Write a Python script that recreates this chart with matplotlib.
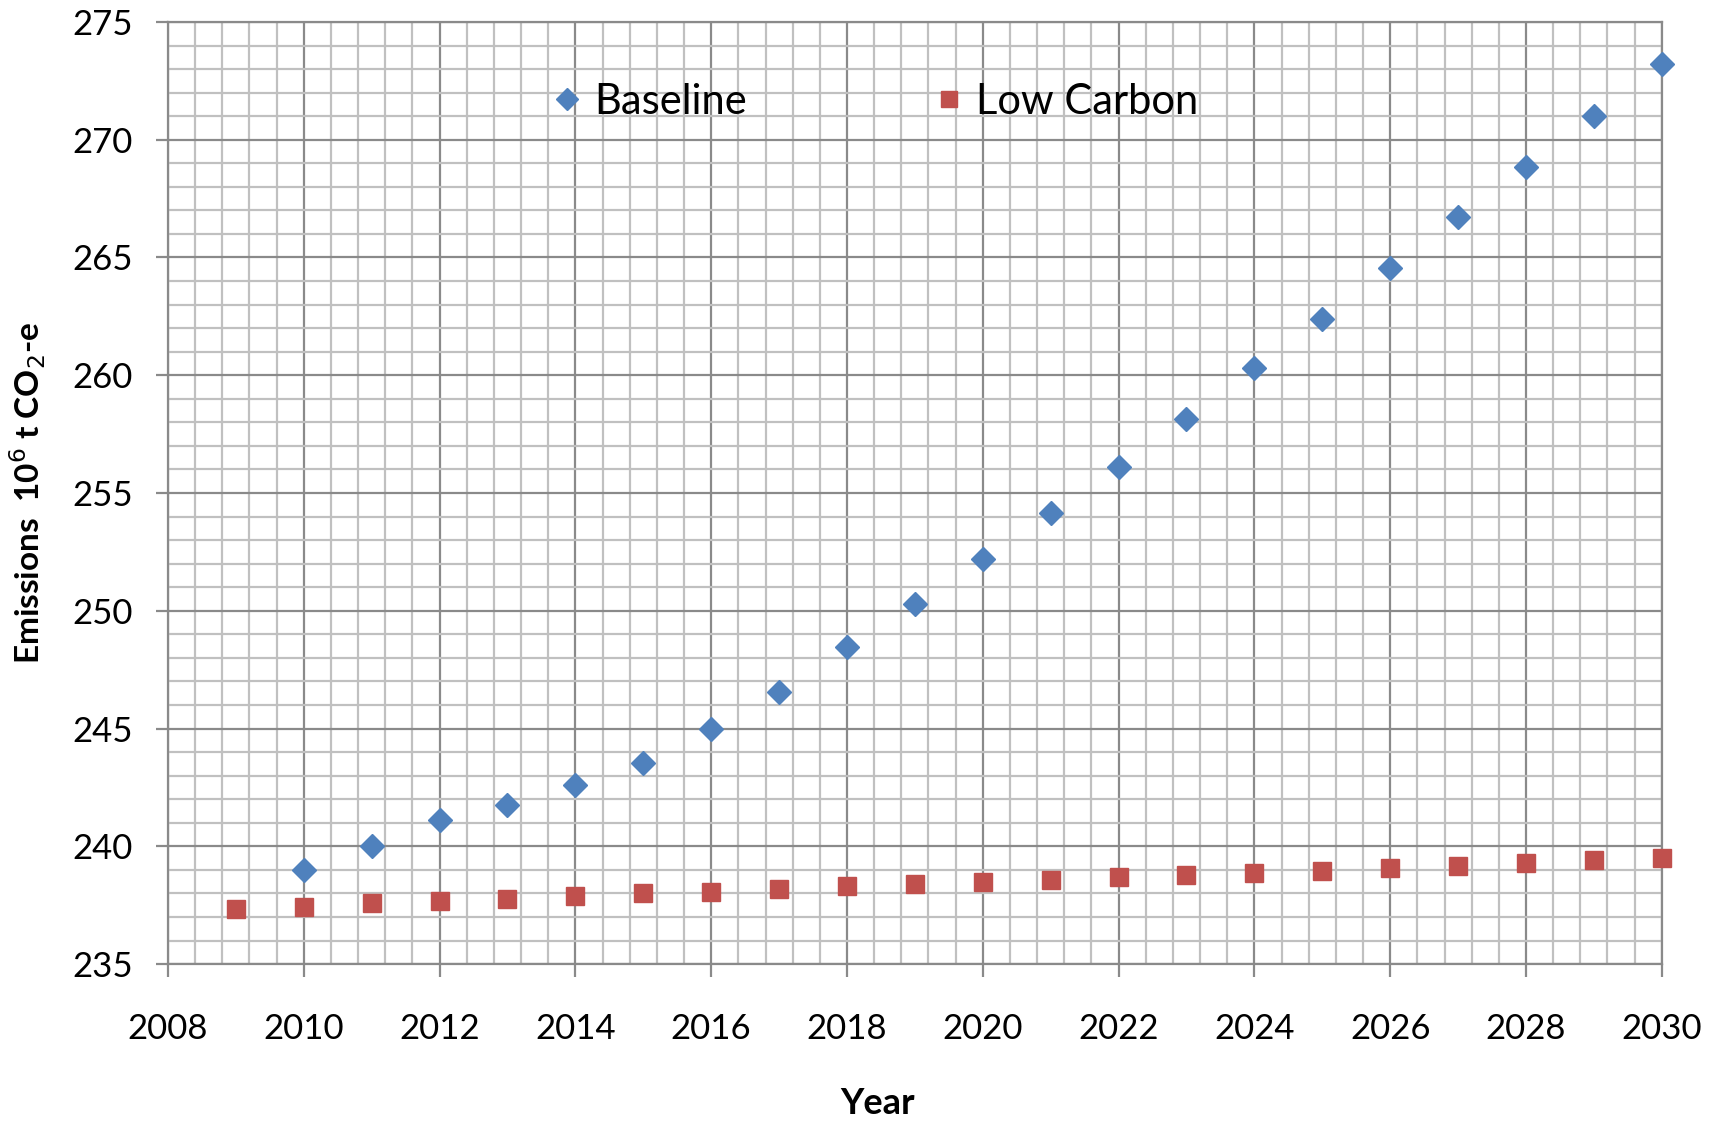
import matplotlib.pyplot as plt
from matplotlib.ticker import MultipleLocator

plt.rcParams['font.family'] = ['Lato', 'DejaVu Sans']

years_base = [2010, 2011, 2012, 2013, 2014, 2015, 2016, 2017, 2018, 2019, 2020,
              2021, 2022, 2023, 2024, 2025, 2026, 2027, 2028, 2029, 2030]
baseline = [239.0, 240.0, 241.1, 241.75, 242.6, 243.55, 245.0, 246.55, 248.45, 250.3, 252.2,
            254.15, 256.1, 258.15, 260.3, 262.4, 264.55, 266.7, 268.85, 271.0, 273.2]

years_low = [2009, 2010, 2011, 2012, 2013, 2014, 2015, 2016, 2017, 2018, 2019, 2020,
             2021, 2022, 2023, 2024, 2025, 2026, 2027, 2028, 2029, 2030]
low_carbon = [237.35, 237.42, 237.58, 237.68, 237.77, 237.87, 238.0, 238.07, 238.17, 238.3, 238.4, 238.48,
              238.58, 238.7, 238.77, 238.86, 238.96, 239.08, 239.18, 239.27, 239.4, 239.5]

fig = plt.figure(figsize=(17.21, 11.21), dpi=100)
ax = fig.add_axes([0.0976, 0.14, 0.868, 0.8404])

ax.set_xlim(2008, 2030)
ax.set_ylim(235, 275)
ax.xaxis.set_major_locator(MultipleLocator(2))
ax.xaxis.set_minor_locator(MultipleLocator(0.4))
ax.yaxis.set_major_locator(MultipleLocator(5))
ax.yaxis.set_minor_locator(MultipleLocator(1))

ax.grid(which='minor', color='#c0c0c0', linewidth=1.6)
ax.grid(which='major', color='#8a8a8a', linewidth=1.6)
ax.set_axisbelow(True)
for s in ax.spines.values():
    s.set_color('#8a8a8a')
    s.set_linewidth(1.6)

ax.tick_params(which='major', length=9, width=1.6, color='#8a8a8a', labelsize=25, pad=16)
ax.tick_params(axis='x', which='major', pad=26)
ax.tick_params(which='minor', length=0)

ax.plot(years_base, baseline, linestyle='none', marker='D', ms=12.5, color='#4f81bd',
        label='Baseline', clip_on=False, zorder=3)
ax.plot(years_low, low_carbon, linestyle='none', marker='s', ms=12.5, color='#c0504d',
        label='Low Carbon', clip_on=False, zorder=3)

ax.set_xlabel('Year', fontsize=26, fontweight='bold')
ax.xaxis.set_label_coords(0.475, -0.13)
ax.set_ylabel('Emissions  10$^6$ t CO$_2$-e', fontsize=24, fontweight='bold', labelpad=18)

ax.legend(loc='upper left', bbox_to_anchor=(0.235, 0.975), ncol=2, frameon=False,
          fontsize=30, markerscale=0.9, handlelength=0.5, handletextpad=0.4,
          columnspacing=4.6)

fig.savefig('out.png', dpi=100)
